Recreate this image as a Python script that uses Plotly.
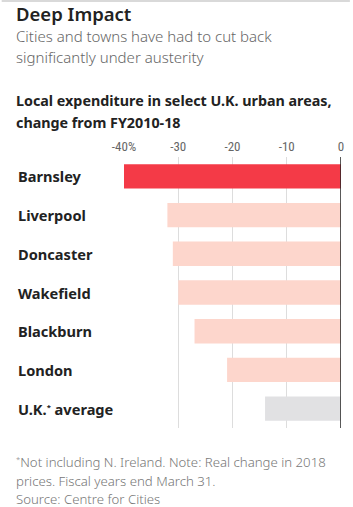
import plotly.graph_objects as go

categories = ["Barnsley", "Liverpool", "Doncaster", "Wakefield", "Blackburn", "London", "U.K.* average"]
values = [-40, -32, -31, -30, -27, -21, -14]
colors = ["#F43A47", "#FDD6CC", "#FDD6CC", "#FDD6CC", "#FDD6CC", "#FDD6CC", "#E1E1E3"]
tick_vals = [-40, -30, -20, -10, 0]
tick_text = ["-40%", "-30", "-20", "-10", "0"]

W, H = 353, 507
L, R, T, B = 124, 9, 157, 79
FONT = "Noto Sans, sans-serif"
STAR = "<span style='font-size:11px'><sup>*</sup></span>"

fig = go.Figure()
fig.add_trace(go.Bar(
    x=values, y=categories, orientation="h",
    marker=dict(color=colors, line=dict(width=0)),
    width=0.63, hoverinfo="skip",
))

fig.update_layout(
    width=W, height=H,
    margin=dict(l=L, r=R, t=T, b=B, pad=0),
    paper_bgcolor="white", plot_bgcolor="white",
    showlegend=False,
    font=dict(family=FONT, color="#333"),
    xaxis=dict(
        range=[-40, 0], side="top", tickvals=tick_vals, ticktext=tick_text,
        showgrid=True, gridcolor="#DDDDDD", gridwidth=1,
        zeroline=False, showline=False, ticks="", ticklabelstandoff=2,
        tickfont=dict(family="Liberation Sans Narrow, Roboto Condensed, Roboto, sans-serif", size=13, color="#666"),
        fixedrange=True,
    ),
    yaxis=dict(
        autorange="reversed", showticklabels=False, showgrid=False,
        zeroline=False, showline=False, ticks="", fixedrange=True,
    ),
)

# zero line
fig.add_shape(type="line", xref="x", yref="paper", x0=0, x1=0, y0=0, y1=1,
              line=dict(color="#222", width=1.5))

def px_y(y):
    return 1 - (y - T) / (H - T - B)

def px_x(x):
    return (x - L) / (W - L - R)

# category labels
for c in categories:
    label = c.replace("*", STAR)
    fig.add_annotation(xref="paper", yref="y", x=px_x(15), y=c,
                       text=label, showarrow=False, xanchor="left", yanchor="middle",
                       font=dict(family=FONT, size=14.6, color="#222", weight="bold"))

# top border
fig.add_shape(type="rect", xref="paper", yref="paper", x0=px_x(0), x1=px_x(W), y0=px_y(2), y1=px_y(0),
              fillcolor="#D9D9D9", line=dict(width=0))

texts = [
    ("Deep Impact", -1, 18.5, "#222", 600),
    ("Cities and towns have had to cut back", 24, 15, "#666", 300),
    ("significantly under austerity", 45, 15, "#666", 300),
    ("Local expenditure in select U.K. urban areas,", 89, 14.3, "#222", "bold"),
    ("change from FY2010-18", 111, 14.3, "#222", "bold"),
    (STAR + "Not including N. Ireland. Note: Real change in 2018", 451, 13.2, "#777", 300),
    ("prices. Fiscal years end March 31.", 470, 13.2, "#777", 300),
    ("Source: Centre for Cities", 488, 13.2, "#777", 300),
]
for t, y, s, col, w in texts:
    fig.add_annotation(xref="paper", yref="paper", x=px_x(12), y=px_y(y), text=t,
                       showarrow=False, xanchor="left", yanchor="top",
                       font=dict(family=FONT, size=s, color=col, weight=w))

fig.write_html("out.html")
